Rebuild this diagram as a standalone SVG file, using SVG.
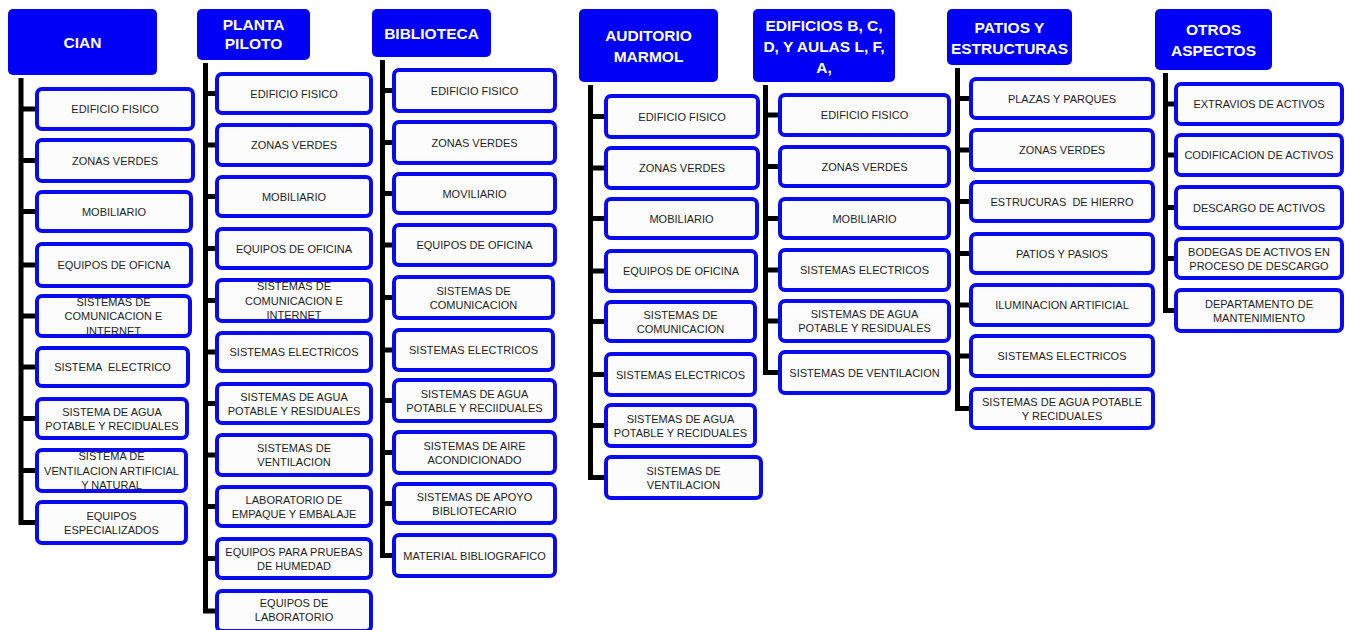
<svg xmlns="http://www.w3.org/2000/svg" width="1350" height="630" viewBox="0 0 1350 630">
  <style>
    .hdr { fill: #0000f5; }
    .ht { fill: #ffffff; font-family: "Liberation Sans", Arial, sans-serif; font-weight: bold; font-size: 15.5px; text-anchor: middle; }
    .bx { fill: #fcfcfc; stroke: #0a0aee; stroke-width: 4; }
    .bt { fill: #1e1e1e; font-family: "Liberation Sans", Arial, sans-serif; font-size: 11px; text-anchor: middle; }
    .ln { fill: none; stroke: #000000; stroke-width: 5; stroke-linejoin: miter; }
  </style>
  <rect width="1350" height="630" fill="#ffffff"/>

  <!-- trunks and branches -->
  <g id="connectors" class="ln">
    <!-- CIAN -->
    <path d="M21,78 V522.5 H35"/>
    <path d="M21,109 H35 M21,160.5 H35 M21,211.5 H35 M21,265 H35 M21,316 H35 M21,367 H35 M21,418.5 H35 M21,470.5 H35"/>
    <!-- PLANTA PILOTO -->
    <path d="M205.5,63 V611 H215"/>
    <path d="M205.5,93.5 H215 M205.5,145 H215 M205.5,196.5 H215 M205.5,248.5 H215 M205.5,300.5 H215 M205.5,352 H215 M205.5,403.5 H215 M205.5,455 H215 M205.5,506.5 H215 M205.5,558.5 H215"/>
    <!-- BIBLIOTECA -->
    <path d="M382.5,60 V555.5 H392"/>
    <path d="M382.5,90.5 H392 M382.5,142.5 H392 M382.5,193.5 H392 M382.5,245 H392 M382.5,297.5 H392 M382.5,350 H392 M382.5,400.5 H392 M382.5,452.5 H392 M382.5,503.5 H392"/>
    <!-- AUDITORIO MARMOL -->
    <path d="M590.5,85 V477.5 H604"/>
    <path d="M590.5,116.5 H604 M590.5,168 H604 M590.5,218.5 H604 M590.5,271 H604 M590.5,321.5 H604 M590.5,374.5 H604 M590.5,425.5 H604"/>
    <!-- EDIFICIOS -->
    <path d="M765.5,85 V372.5 H778"/>
    <path d="M765.5,115 H778 M765.5,166.5 H778 M765.5,218.5 H778 M765.5,270 H778 M765.5,321 H778"/>
    <!-- PATIOS Y ESTRUCTURAS -->
    <path d="M957.5,68 V408.5 H969"/>
    <path d="M957.5,98.5 H969 M957.5,150 H969 M957.5,201.5 H969 M957.5,253.5 H969 M957.5,305 H969 M957.5,356 H969"/>
    <!-- OTROS ASPECTOS -->
    <path d="M1165.5,73 V310.5 H1174"/>
    <path d="M1165.5,104 H1174 M1165.5,155 H1174 M1165.5,207.5 H1174 M1165.5,258.5 H1174"/>
  </g>

  <!-- CIAN -->
  <g id="cian">
    <rect class="hdr" x="8" y="9" width="149" height="66" rx="5"/>
    <text class="ht" x="82.5" y="47.5">CIAN</text>
  </g>
  <g id="cian-1"><rect class="bx" x="37" y="89" width="156" height="40" rx="5"/><text class="bt" x="115" y="113">EDIFICIO FISICO</text></g>
  <g id="cian-2"><rect class="bx" x="37" y="140" width="156" height="41" rx="5"/><text class="bt" x="115" y="164.5">ZONAS VERDES</text></g>
  <g id="cian-3"><rect class="bx" x="37" y="192" width="154" height="39" rx="5"/><text class="bt" x="114" y="215.5">MOBILIARIO</text></g>
  <g id="cian-4"><rect class="bx" x="37" y="244" width="154" height="42" rx="5"/><text class="bt" x="114" y="269">EQUIPOS DE OFICNA</text></g>
  <g id="cian-5"><rect class="bx" x="37" y="296" width="153" height="40" rx="5"/><text class="bt" x="113.5"><tspan x="113.5" y="305.5">SISTEMAS DE</tspan><tspan x="113.5" y="320">COMUNICACION E</tspan><tspan x="113.5" y="334.5">INTERNET</tspan></text></g>
  <g id="cian-6"><rect class="bx" x="37" y="348" width="151" height="38" rx="5"/><text class="bt" x="112.5" y="371" xml:space="preserve">SISTEMA  ELECTRICO</text></g>
  <g id="cian-7"><rect class="bx" x="37" y="399" width="150" height="39" rx="5"/><text class="bt"><tspan x="112" y="415.5">SISTEMA DE AGUA</tspan><tspan x="112" y="429.5">POTABLE Y RECIDUALES</tspan></text></g>
  <g id="cian-8"><rect class="bx" x="37" y="450" width="149" height="41" rx="5"/><text class="bt"><tspan x="111.5" y="460">SISTEMA DE</tspan><tspan x="111.5" y="474.5">VENTILACION ARTIFICIAL</tspan><tspan x="111.5" y="489">Y NATURAL</tspan></text></g>
  <g id="cian-9"><rect class="bx" x="37" y="502" width="149" height="41" rx="5"/><text class="bt"><tspan x="111.5" y="519.5">EQUIPOS</tspan><tspan x="111.5" y="533.5">ESPECIALIZADOS</tspan></text></g>

  <!-- PLANTA PILOTO -->
  <g id="planta-piloto">
    <rect class="hdr" x="197" y="9" width="113" height="51" rx="5"/>
    <text class="ht"><tspan x="253.5" y="29.5">PLANTA</tspan><tspan x="253.5" y="49">PILOTO</tspan></text>
  </g>
  <g id="pp-1"><rect class="bx" x="217" y="74" width="154" height="39" rx="5"/><text class="bt" x="294" y="97.5">EDIFICIO FISICO</text></g>
  <g id="pp-2"><rect class="bx" x="217" y="125" width="154" height="40" rx="5"/><text class="bt" x="294" y="149">ZONAS VERDES</text></g>
  <g id="pp-3"><rect class="bx" x="217" y="177" width="154" height="39" rx="5"/><text class="bt" x="294" y="200.5">MOBILIARIO</text></g>
  <g id="pp-4"><rect class="bx" x="217" y="229" width="154" height="39" rx="5"/><text class="bt" x="294" y="252.5">EQUIPOS DE OFICINA</text></g>
  <g id="pp-5"><rect class="bx" x="217" y="280" width="154" height="41" rx="5"/><text class="bt"><tspan x="294" y="290">SISTEMAS DE</tspan><tspan x="294" y="304.5">COMUNICACION E</tspan><tspan x="294" y="319">INTERNET</tspan></text></g>
  <g id="pp-6"><rect class="bx" x="217" y="333" width="154" height="38" rx="5"/><text class="bt" x="294" y="356">SISTEMAS ELECTRICOS</text></g>
  <g id="pp-7"><rect class="bx" x="217" y="384" width="154" height="39" rx="5"/><text class="bt"><tspan x="294" y="400.5">SISTEMAS DE AGUA</tspan><tspan x="294" y="414.5">POTABLE Y RESIDUALES</tspan></text></g>
  <g id="pp-8"><rect class="bx" x="217" y="435" width="154" height="40" rx="5"/><text class="bt"><tspan x="294" y="452">SISTEMAS DE</tspan><tspan x="294" y="466">VENTILACION</tspan></text></g>
  <g id="pp-9"><rect class="bx" x="217" y="487" width="154" height="39" rx="5"/><text class="bt"><tspan x="294" y="503.5">LABORATORIO DE</tspan><tspan x="294" y="517.5">EMPAQUE Y EMBALAJE</tspan></text></g>
  <g id="pp-10"><rect class="bx" x="217" y="539" width="154" height="39" rx="5"/><text class="bt"><tspan x="294" y="555.5">EQUIPOS PARA PRUEBAS</tspan><tspan x="294" y="569.5">DE HUMEDAD</tspan></text></g>
  <g id="pp-11"><rect class="bx" x="217" y="591" width="154" height="40" rx="5"/><text class="bt"><tspan x="294" y="607">EQUIPOS DE</tspan><tspan x="294" y="621">LABORATORIO</tspan></text></g>

  <!-- BIBLIOTECA -->
  <g id="biblioteca">
    <rect class="hdr" x="372" y="9" width="119" height="48" rx="5"/>
    <text class="ht" x="431.5" y="38.5">BIBLIOTECA</text>
  </g>
  <g id="bib-1"><rect class="bx" x="394" y="70" width="161" height="41" rx="5"/><text class="bt" x="474.5" y="94.5">EDIFICIO FISICO</text></g>
  <g id="bib-2"><rect class="bx" x="394" y="122" width="161" height="41" rx="5"/><text class="bt" x="474.5" y="146.5">ZONAS VERDES</text></g>
  <g id="bib-3"><rect class="bx" x="394" y="174" width="161" height="39" rx="5"/><text class="bt" x="474.5" y="197.5">MOVILIARIO</text></g>
  <g id="bib-4"><rect class="bx" x="394" y="225" width="161" height="40" rx="5"/><text class="bt" x="474.5" y="249">EQUIPOS DE OFICINA</text></g>
  <g id="bib-5"><rect class="bx" x="394" y="277" width="159" height="41" rx="5"/><text class="bt"><tspan x="473.5" y="294.5">SISTEMAS DE</tspan><tspan x="473.5" y="308.5">COMUNICACION</tspan></text></g>
  <g id="bib-6"><rect class="bx" x="394" y="330" width="159" height="40" rx="5"/><text class="bt" x="473.5" y="354">SISTEMAS ELECTRICOS</text></g>
  <g id="bib-7"><rect class="bx" x="394" y="380" width="161" height="41" rx="5"/><text class="bt"><tspan x="474.5" y="397.5">SISTEMAS DE AGUA</tspan><tspan x="474.5" y="411.5">POTABLE Y RECIIDUALES</tspan></text></g>
  <g id="bib-8"><rect class="bx" x="394" y="432" width="161" height="41" rx="5"/><text class="bt"><tspan x="474.5" y="449.5">SISTEMAS DE AIRE</tspan><tspan x="474.5" y="463.5">ACONDICIONADO</tspan></text></g>
  <g id="bib-9"><rect class="bx" x="394" y="484" width="161" height="39" rx="5"/><text class="bt"><tspan x="474.5" y="500.5">SISTEMAS DE APOYO</tspan><tspan x="474.5" y="514.5">BIBLIOTECARIO</tspan></text></g>
  <g id="bib-10"><rect class="bx" x="394" y="535" width="161" height="41" rx="5"/><text class="bt" x="474.5" y="559.5">MATERIAL BIBLIOGRAFICO</text></g>

  <!-- AUDITORIO MARMOL -->
  <g id="auditorio-marmol">
    <rect class="hdr" x="579" y="9" width="139" height="73" rx="5"/>
    <text class="ht"><tspan x="648.5" y="40.5">AUDITORIO</tspan><tspan x="648.5" y="61.5">MARMOL</tspan></text>
  </g>
  <g id="aud-1"><rect class="bx" x="606" y="96" width="152" height="41" rx="5"/><text class="bt" x="682" y="120.5">EDIFICIO FISICO</text></g>
  <g id="aud-2"><rect class="bx" x="606" y="148" width="152" height="40" rx="5"/><text class="bt" x="682" y="172">ZONAS VERDES</text></g>
  <g id="aud-3"><rect class="bx" x="606" y="199" width="151" height="39" rx="5"/><text class="bt" x="681.5" y="222.5">MOBILIARIO</text></g>
  <g id="aud-4"><rect class="bx" x="606" y="251" width="150" height="40" rx="5"/><text class="bt" x="681" y="275">EQUIPOS DE OFICINA</text></g>
  <g id="aud-5"><rect class="bx" x="606" y="302" width="149" height="39" rx="5"/><text class="bt"><tspan x="680.5" y="318.5">SISTEMAS DE</tspan><tspan x="680.5" y="332.5">COMUNICACION</tspan></text></g>
  <g id="aud-6"><rect class="bx" x="606" y="354" width="149" height="41" rx="5"/><text class="bt" x="680.5" y="378.5">SISTEMAS ELECTRICOS</text></g>
  <g id="aud-7"><rect class="bx" x="606" y="405" width="149" height="41" rx="5"/><text class="bt"><tspan x="680.5" y="422.5">SISTEMAS DE AGUA</tspan><tspan x="680.5" y="436.5">POTABLE Y RECIDUALES</tspan></text></g>
  <g id="aud-8"><rect class="bx" x="606" y="457" width="155" height="41" rx="5"/><text class="bt"><tspan x="683.5" y="474.5">SISTEMAS DE</tspan><tspan x="683.5" y="488.5">VENTILACION</tspan></text></g>

  <!-- EDIFICIOS B, C, D, Y AULAS L, F, A -->
  <g id="edificios">
    <rect class="hdr" x="753" y="9" width="142" height="73" rx="5"/>
    <text class="ht"><tspan x="824" y="30.5">EDIFICIOS B, C,</tspan><tspan x="824" y="51.5">D, Y AULAS L, F,</tspan><tspan x="824" y="72.5">A,</tspan></text>
  </g>
  <g id="edi-1"><rect class="bx" x="780" y="95" width="169" height="40" rx="5"/><text class="bt" x="864.5" y="119">EDIFICIO FISICO</text></g>
  <g id="edi-2"><rect class="bx" x="780" y="147" width="169" height="39" rx="5"/><text class="bt" x="864.5" y="170.5">ZONAS VERDES</text></g>
  <g id="edi-3"><rect class="bx" x="780" y="199" width="169" height="39" rx="5"/><text class="bt" x="864.5" y="222.5">MOBILIARIO</text></g>
  <g id="edi-4"><rect class="bx" x="780" y="250" width="169" height="40" rx="5"/><text class="bt" x="864.5" y="274">SISTEMAS ELECTRICOS</text></g>
  <g id="edi-5"><rect class="bx" x="780" y="301" width="169" height="40" rx="5"/><text class="bt"><tspan x="864.5" y="318">SISTEMAS DE AGUA</tspan><tspan x="864.5" y="332">POTABLE Y RESIDUALES</tspan></text></g>
  <g id="edi-6"><rect class="bx" x="780" y="352" width="169" height="41" rx="5"/><text class="bt" x="864.5" y="376.5">SISTEMAS DE VENTILACION</text></g>

  <!-- PATIOS Y ESTRUCTURAS -->
  <g id="patios-estructuras">
    <rect class="hdr" x="947" y="9" width="125" height="56" rx="5"/>
    <text class="ht"><tspan x="1009.5" y="32.5">PATIOS Y</tspan><tspan x="1009.5" y="53.5">ESTRUCTURAS</tspan></text>
  </g>
  <g id="pat-1"><rect class="bx" x="971" y="79" width="182" height="39" rx="5"/><text class="bt" x="1062" y="102.5">PLAZAS Y PARQUES</text></g>
  <g id="pat-2"><rect class="bx" x="971" y="130" width="182" height="40" rx="5"/><text class="bt" x="1062" y="154">ZONAS VERDES</text></g>
  <g id="pat-3"><rect class="bx" x="971" y="182" width="182" height="39" rx="5"/><text class="bt" x="1062" y="205.5" xml:space="preserve">ESTRUCURAS  DE HIERRO</text></g>
  <g id="pat-4"><rect class="bx" x="971" y="234" width="182" height="39" rx="5"/><text class="bt" x="1062" y="257.5">PATIOS Y PASIOS</text></g>
  <g id="pat-5"><rect class="bx" x="971" y="285" width="182" height="40" rx="5"/><text class="bt" x="1062" y="309">ILUMINACION ARTIFICIAL</text></g>
  <g id="pat-6"><rect class="bx" x="971" y="336" width="182" height="40" rx="5"/><text class="bt" x="1062" y="360">SISTEMAS ELECTRICOS</text></g>
  <g id="pat-7"><rect class="bx" x="971" y="389" width="182" height="39" rx="5"/><text class="bt"><tspan x="1062" y="405.5">SISTEMAS DE AGUA POTABLE</tspan><tspan x="1062" y="419.5">Y RECIDUALES</tspan></text></g>

  <!-- OTROS ASPECTOS -->
  <g id="otros-aspectos">
    <rect class="hdr" x="1155" y="9" width="117" height="61" rx="5"/>
    <text class="ht"><tspan x="1213.5" y="34.5">OTROS</tspan><tspan x="1213.5" y="55.5">ASPECTOS</tspan></text>
  </g>
  <g id="otr-1"><rect class="bx" x="1176" y="84" width="166" height="40" rx="5"/><text class="bt" x="1259" y="108">EXTRAVIOS DE ACTIVOS</text></g>
  <g id="otr-2"><rect class="bx" x="1176" y="135" width="166" height="40" rx="5"/><text class="bt" x="1259" y="159">CODIFICACION DE ACTIVOS</text></g>
  <g id="otr-3"><rect class="bx" x="1176" y="187" width="166" height="41" rx="5"/><text class="bt" x="1259" y="211.5">DESCARGO DE ACTIVOS</text></g>
  <g id="otr-4"><rect class="bx" x="1176" y="239" width="166" height="39" rx="5"/><text class="bt"><tspan x="1259" y="255.5">BODEGAS DE ACTIVOS EN</tspan><tspan x="1259" y="269.5">PROCESO DE DESCARGO</tspan></text></g>
  <g id="otr-5"><rect class="bx" x="1176" y="290" width="166" height="41" rx="5"/><text class="bt"><tspan x="1259" y="307.5">DEPARTAMENTO DE</tspan><tspan x="1259" y="321.5">MANTENIMIENTO</tspan></text></g>
</svg>
